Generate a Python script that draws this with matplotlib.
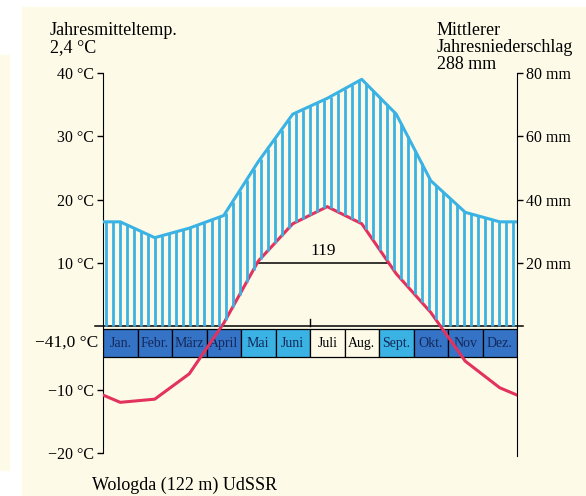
import numpy as np
import matplotlib
matplotlib.use("Agg")
from matplotlib import pyplot as plt
from matplotlib.patches import Rectangle

plt.rcParams['font.family'] = ['Liberation Serif', 'DejaVu Serif']

months = ["Jan.", "Febr.", "März", "April", "Mai", "Juni", "Juli", "Aug.", "Sept.", "Okt.", "Nov", "Dez."]
temp = [-12.0, -11.5, -7.5, 0.5, 10.3, 16.2, 18.9, 16.2, 8.3, 2.2, -5.5, -9.7]     # °C
prec = [33, 28, 31, 35, 52, 67, 72, 78, 67, 46, 36, 33]                           # mm
# frost classes of the month band: 2 = dark, 1 = light, 0 = frost free
frost = [2, 2, 2, 2, 1, 1, 0, 0, 1, 2, 2, 2]
temp_ticks = [-20, -10, 10, 20, 30, 40]
prec_ticks = [20, 40, 60, 80]
mean_temp = "2,4 °C"
sum_prec = "288 mm"
abs_min = "−41,0 °C"
days_over_10 = 119
station = "Wologda (122 m) UdSSR"

W, H = 586, 496
bg = '#fdfbe8'
blue = '#3bb2e4'
dark = '#3573c6'
red = '#e3325e'

fig = plt.figure(figsize=(W / 100, H / 100), dpi=100, facecolor='white')
fig.patches.append(Rectangle((22 / W, 0), 1, 1 - 7 / H, transform=fig.transFigure, color=bg, zorder=-10))
fig.patches.append(Rectangle((0, 1 - 470 / H), 9 / W, 415 / H, transform=fig.transFigure, color=bg, zorder=-10))

ax = fig.add_axes([103 / W, 1 - 453 / H, 414 / W, 380 / H])
ax.patch.set_alpha(0)
ax2 = ax.twinx()
ax.set_xlim(0, 12)
ax.set_ylim(-20, 40)
ax2.set_ylim(-40, 80)

# curves, closed at both edges with the Dec/Jan mean
xc = np.arange(12) + 0.5
xs = np.concatenate([[0], xc, [12]])
t_edge = (temp[0] + temp[-1]) / 2
p_edge = (prec[0] + prec[-1]) / 2
ts = np.concatenate([[t_edge], temp, [t_edge]])
ps = np.concatenate([[p_edge], prec, [p_edge]])

# humid period hatching
hx = np.arange(0.1, 12, 0.203)
top = np.interp(hx, xs, ps)
bot = np.maximum(np.interp(hx, xs, ts) * 2, 0)
ax2.vlines(hx, bot, top, color=blue, lw=2.0, zorder=2)
ax2.plot(xs, ps, color=blue, lw=2.2, zorder=3, solid_joinstyle='round')

# month band
for i, m in enumerate(months):
    fc = {2: dark, 1: blue, 0: bg}[frost[i]]
    ax.add_patch(Rectangle((i, -4.9), 1, 4.5, facecolor=fc, edgecolor='black', lw=0.9, zorder=4))
    ax.text(i + 0.5, -2.65, m, ha='center', va='center', fontsize=10,
            color='black' if frost[i] == 0 else '#14285a', zorder=5)
ax.plot([-0.23, 12.18], [0, 0], color='black', lw=1.1, clip_on=False, zorder=5)
ax.plot([6, 6], [0, 1.1], color='black', lw=1.0, zorder=5)
ax.text(-0.15, -2.65, abs_min, ha='right', va='center', fontsize=12.5, clip_on=False)

ax.plot(xs, ts, color=red, lw=2.2, zorder=6, solid_joinstyle='round')

# days above 10 °C
up = np.interp(10, temp[3:7], xc[3:7])
down = np.interp(-10, -np.array(temp[6:10]), xc[6:10])
ax.plot([up, down], [10, 10], color='black', lw=1.1, zorder=5)
ax.text((up + down) / 2, 10.6, str(days_over_10), ha='center', va='bottom', fontsize=12.5, zorder=5)

# axes
for a in (ax, ax2):
    a.spines['top'].set_visible(False)
    a.spines['bottom'].set_visible(False)
    a.set_xticks([])
ax.spines['right'].set_visible(False)
ax2.spines['left'].set_visible(False)
ax.spines['left'].set_bounds(-20, 40)
ax2.spines['right'].set_bounds(-41, 80)
ax.set_yticks(temp_ticks)
ax.set_yticklabels([f"{v} °C".replace('-', '−') for v in temp_ticks])
ax2.set_yticks(prec_ticks)
ax2.set_yticklabels([f"{v} mm" for v in prec_ticks])
ax.tick_params(axis='y', length=4.5, width=1, pad=2, labelsize=11.5)
ax2.tick_params(axis='y', length=4.5, width=1, pad=2, labelsize=11.5)

fs = 13
fig.text(50 / W, 1 - 35 / H, "Jahresmitteltemp.", fontsize=fs, va='baseline')
fig.text(50 / W, 1 - 52 / H, mean_temp, fontsize=fs, va='baseline')
fig.text(437 / W, 1 - 35 / H, "Mittlerer", fontsize=fs, va='baseline')
fig.text(437 / W, 1 - 52 / H, "Jahresniederschlag", fontsize=fs, va='baseline')
fig.text(437 / W, 1 - 69 / H, sum_prec, fontsize=fs, va='baseline')
fig.text(92 / W, 1 - 490 / H, station, fontsize=fs, va='baseline')

fig.savefig("out.png", dpi=100, facecolor=fig.get_facecolor())
